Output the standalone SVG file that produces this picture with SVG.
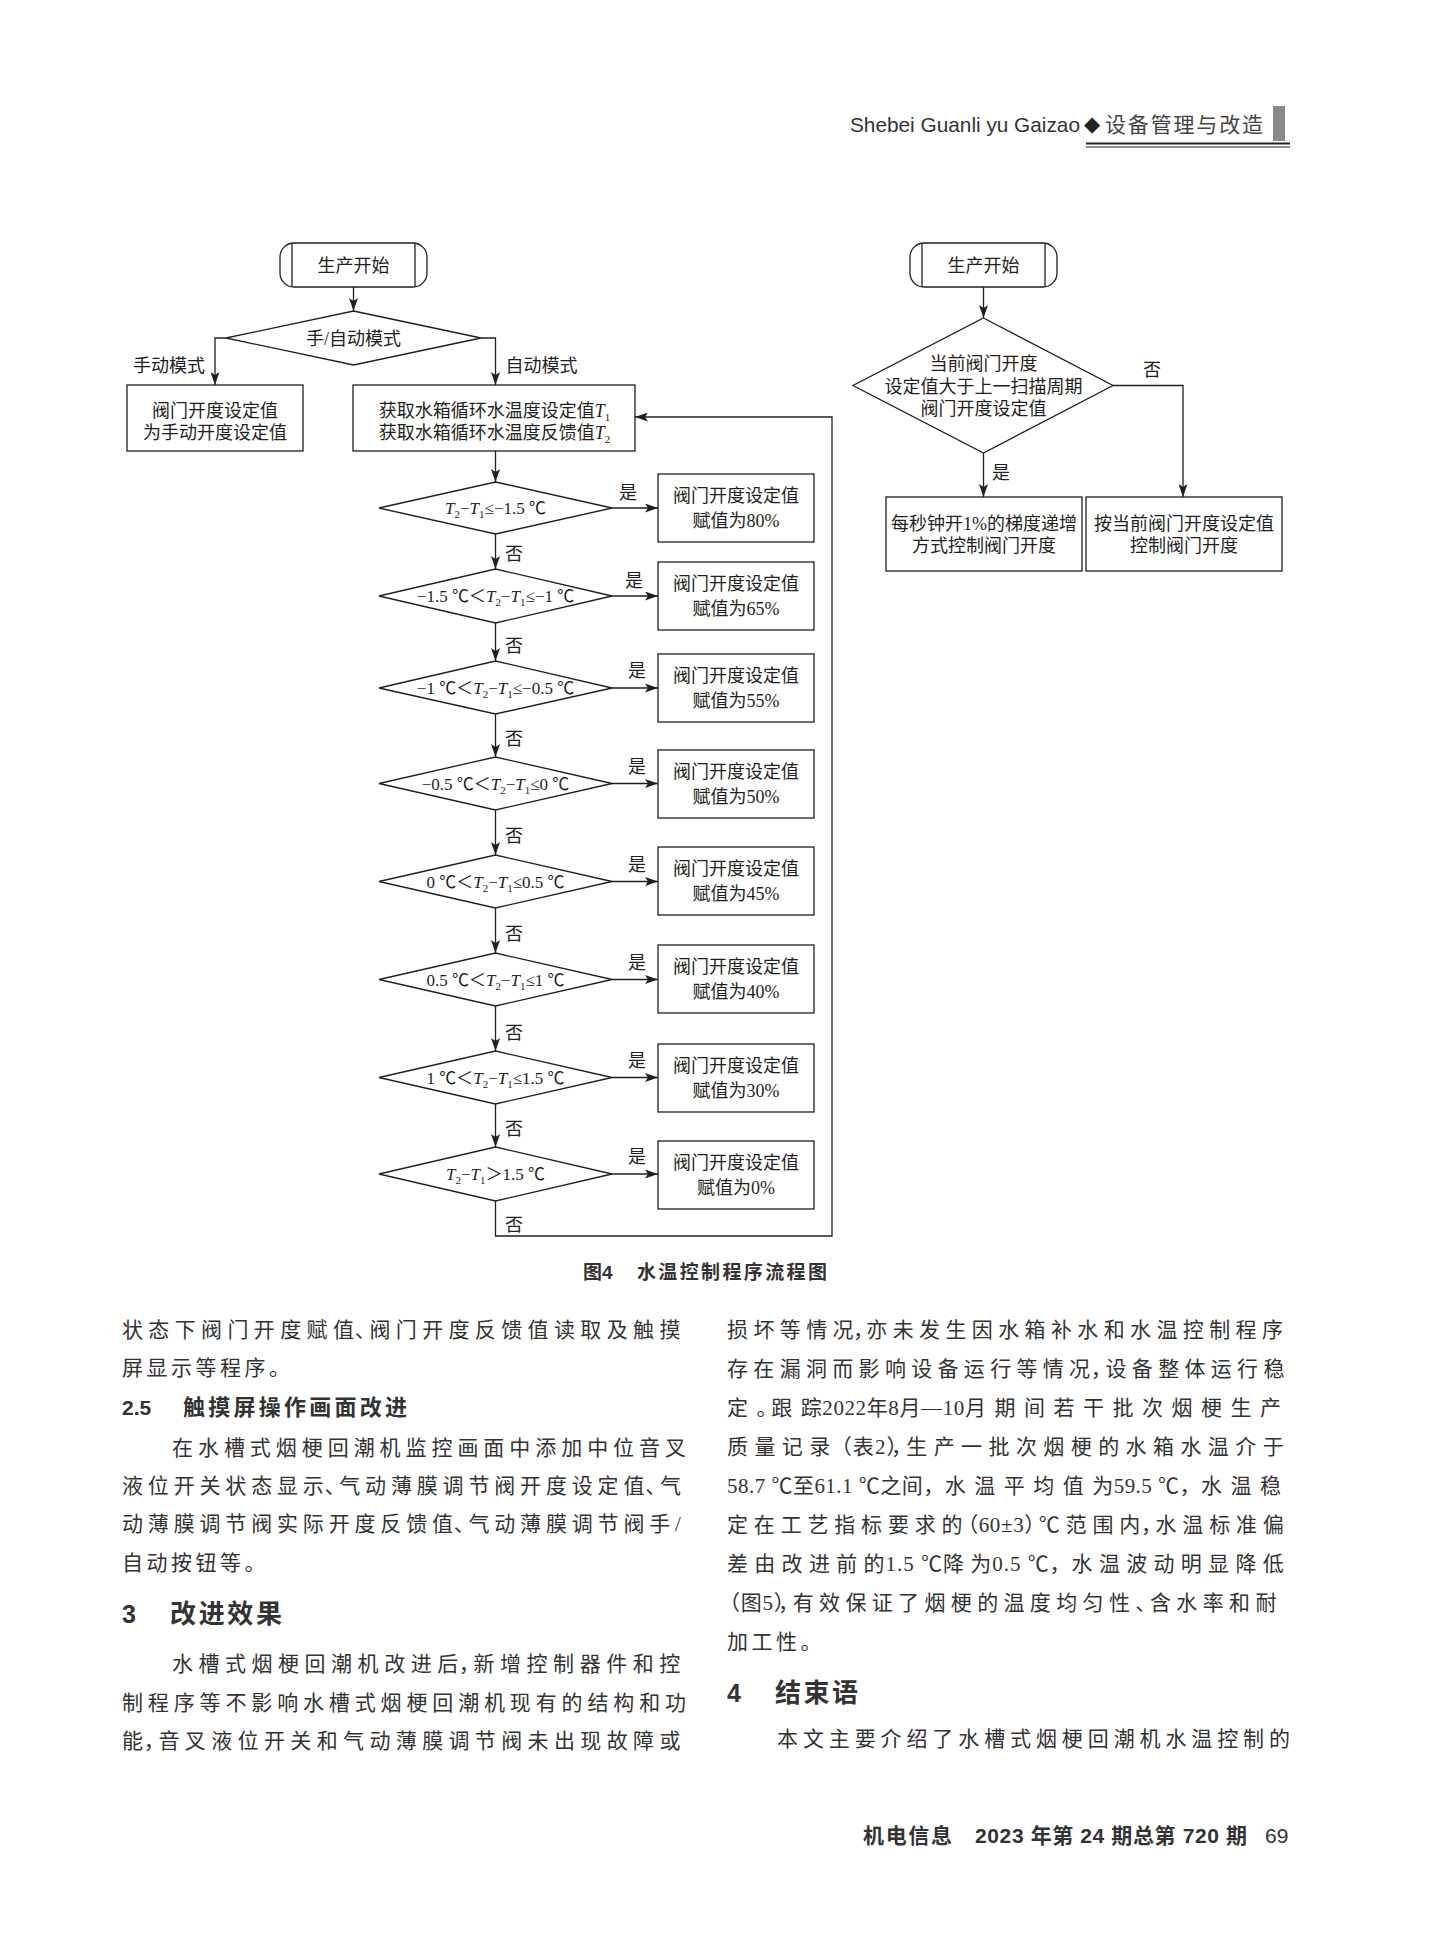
<svg xmlns="http://www.w3.org/2000/svg" width="1431" height="1955" viewBox="0 0 1431 1955">
<style>
.ln{stroke:#231f20;stroke-width:1.3;fill:none}
.bx{fill:#fff;stroke:#231f20;stroke-width:1.3}
.fc{font-family:"Liberation Serif","Noto Sans CJK SC",serif;font-size:18px;fill:#231f20}
.dt{font-size:17px}
.it{font-style:italic}
.sb{font-size:11px}
.cj{font-family:"Noto Sans CJK SC",sans-serif}
.bd{font-family:"Liberation Serif","Noto Sans CJK SC",serif;font-size:21px;fill:#333}
.t{letter-spacing:1px}
.cp{letter-spacing:-6px}
.hd{font-family:"Liberation Sans","Noto Sans CJK SC",sans-serif;font-weight:bold;fill:#333}
</style>
<defs>
<marker id="ar" markerUnits="userSpaceOnUse" markerWidth="14" markerHeight="9" refX="13" refY="4.5" orient="auto">
<path d="M0,0 L13,4.5 L0,9 L3,4.5 z" fill="#231f20"/>
</marker>
</defs>
<rect width="1431" height="1955" fill="#fff"/>

<g id="header">
<text x="850" y="132" font-family="Liberation Sans,sans-serif" font-size="21" fill="#333" textLength="230" lengthAdjust="spacingAndGlyphs">Shebei Guanli yu Gaizao</text>
<text x="1084" y="131" font-family="DejaVu Sans,sans-serif" font-size="21" fill="#222">◆</text>
<text x="1105" y="132" font-family="Noto Sans CJK SC,sans-serif" font-size="21" fill="#444" textLength="158">设备管理与改造</text>
<rect x="1273" y="106" width="12" height="35" fill="#8a8a8a"/>
<line x1="1086" y1="143.5" x2="1290" y2="143.5" stroke="#222" stroke-width="2"/>
<line x1="1086" y1="147" x2="1290" y2="147" stroke="#222" stroke-width="1"/>
</g>

<g id="connectors">
<path class="ln" d="M353.5,287 V311" marker-end="url(#ar)"/>
<path class="ln" d="M226,338 H215 V385" marker-end="url(#ar)"/>
<path class="ln" d="M481,338 H495.5 V385" marker-end="url(#ar)"/>
<path class="ln" d="M495.5,451 V482" marker-end="url(#ar)"/>
<path class="ln" d="M495.5,534 V569" marker-end="url(#ar)"/>
<path class="ln" d="M495.5,623 V661" marker-end="url(#ar)"/>
<path class="ln" d="M495.5,714 V757" marker-end="url(#ar)"/>
<path class="ln" d="M495.5,810 V855" marker-end="url(#ar)"/>
<path class="ln" d="M495.5,908 V953" marker-end="url(#ar)"/>
<path class="ln" d="M495.5,1006 V1051" marker-end="url(#ar)"/>
<path class="ln" d="M495.5,1104 V1147" marker-end="url(#ar)"/>
<path class="ln" d="M612,508 H658" marker-end="url(#ar)"/>
<path class="ln" d="M612,596 H658" marker-end="url(#ar)"/>
<path class="ln" d="M612,688 H658" marker-end="url(#ar)"/>
<path class="ln" d="M612,783.5 H658" marker-end="url(#ar)"/>
<path class="ln" d="M612,881.5 H658" marker-end="url(#ar)"/>
<path class="ln" d="M612,979.5 H658" marker-end="url(#ar)"/>
<path class="ln" d="M612,1077.5 H658" marker-end="url(#ar)"/>
<path class="ln" d="M612,1174 H658" marker-end="url(#ar)"/>
<path class="ln" d="M495.5,1201 V1236 H832 V417 H635" marker-end="url(#ar)"/>
<path class="ln" d="M983.5,287 V318" marker-end="url(#ar)"/>
<path class="ln" d="M983.5,453 V497" marker-end="url(#ar)"/>
<path class="ln" d="M1113,385.5 H1183 V497" marker-end="url(#ar)"/>
<g class="fc">
<text x="169" y="372" text-anchor="middle">手动模式</text>
<text x="541.5" y="372" text-anchor="middle">自动模式</text>
<text x="628" y="499" text-anchor="middle">是</text>
<text x="634" y="587" text-anchor="middle">是</text>
<text x="637" y="677" text-anchor="middle">是</text>
<text x="637" y="773" text-anchor="middle">是</text>
<text x="637" y="871" text-anchor="middle">是</text>
<text x="637" y="969" text-anchor="middle">是</text>
<text x="637" y="1067" text-anchor="middle">是</text>
<text x="637" y="1163" text-anchor="middle">是</text>
<text x="514" y="559.5" text-anchor="middle">否</text>
<text x="514" y="651.5" text-anchor="middle">否</text>
<text x="514" y="744.5" text-anchor="middle">否</text>
<text x="514" y="841.5" text-anchor="middle">否</text>
<text x="514" y="939.5" text-anchor="middle">否</text>
<text x="514" y="1038.5" text-anchor="middle">否</text>
<text x="514" y="1134.5" text-anchor="middle">否</text>
<text x="514" y="1231" text-anchor="middle">否</text>
<text x="1001" y="478.5" text-anchor="middle">是</text>
<text x="1152" y="375.5" text-anchor="middle">否</text>
</g>
</g>

<g id="start1">
<rect class="bx" x="280" y="243" width="147" height="44" rx="14"/>
<line class="ln" x1="292" y1="243" x2="292" y2="287"/>
<line class="ln" x1="415" y1="243" x2="415" y2="287"/>
<text class="fc" x="353.5" y="271.5" text-anchor="middle">生产开始</text>
</g>
<g id="mode">
<polygon class="bx" points="353.5,311 481,338 353.5,365 226,338"/>
<text class="fc" x="353.5" y="344.5" text-anchor="middle">手/自动模式</text>
</g>
<g id="manual">
<rect class="bx" x="127" y="385" width="176" height="66"/>
<text class="fc" x="215" y="416.5" text-anchor="middle">阀门开度设定值</text>
<text class="fc" x="215" y="438.5" text-anchor="middle">为手动开度设定值</text>
</g>
<g id="acquire">
<rect class="bx" x="353" y="385" width="282" height="66"/>
<text class="fc" x="494.5" y="416.5" text-anchor="middle">获取水箱循环水温度设定值<tspan class="it">T</tspan><tspan class="sb" dy="4">1</tspan></text>
<text class="fc" x="494.5" y="438.5" text-anchor="middle">获取水箱循环水温度反馈值<tspan class="it">T</tspan><tspan class="sb" dy="4">2</tspan></text>
</g>

<g id="d1">
<polygon class="bx" points="495.5,482 612,508 495.5,534 379,508"/>
<text class="fc dt" x="495.5" y="514" text-anchor="middle"><tspan class="it">T</tspan><tspan class="sb" dy="4">2</tspan><tspan dy="-4">−</tspan><tspan class="it">T</tspan><tspan class="sb" dy="4">1</tspan><tspan dy="-4">≤−1.5 </tspan><tspan class="cj">℃</tspan></text>
</g>
<g id="d2">
<polygon class="bx" points="495.5,569 612,596 495.5,623 379,596"/>
<text class="fc dt" x="495.5" y="602" text-anchor="middle">−1.5 <tspan class="cj">℃＜</tspan><tspan class="it">T</tspan><tspan class="sb" dy="4">2</tspan><tspan dy="-4">−</tspan><tspan class="it">T</tspan><tspan class="sb" dy="4">1</tspan><tspan dy="-4">≤−1 </tspan><tspan class="cj">℃</tspan></text>
</g>
<g id="d3">
<polygon class="bx" points="495.5,661 612,688 495.5,714 379,688"/>
<text class="fc dt" x="495.5" y="694" text-anchor="middle">−1 <tspan class="cj">℃＜</tspan><tspan class="it">T</tspan><tspan class="sb" dy="4">2</tspan><tspan dy="-4">−</tspan><tspan class="it">T</tspan><tspan class="sb" dy="4">1</tspan><tspan dy="-4">≤−0.5 </tspan><tspan class="cj">℃</tspan></text>
</g>
<g id="d4">
<polygon class="bx" points="495.5,757 612,783.5 495.5,810 379,783.5"/>
<text class="fc dt" x="495.5" y="789.5" text-anchor="middle">−0.5 <tspan class="cj">℃＜</tspan><tspan class="it">T</tspan><tspan class="sb" dy="4">2</tspan><tspan dy="-4">−</tspan><tspan class="it">T</tspan><tspan class="sb" dy="4">1</tspan><tspan dy="-4">≤0 </tspan><tspan class="cj">℃</tspan></text>
</g>
<g id="d5">
<polygon class="bx" points="495.5,855 612,881.5 495.5,908 379,881.5"/>
<text class="fc dt" x="495.5" y="887.5" text-anchor="middle">0 <tspan class="cj">℃＜</tspan><tspan class="it">T</tspan><tspan class="sb" dy="4">2</tspan><tspan dy="-4">−</tspan><tspan class="it">T</tspan><tspan class="sb" dy="4">1</tspan><tspan dy="-4">≤0.5 </tspan><tspan class="cj">℃</tspan></text>
</g>
<g id="d6">
<polygon class="bx" points="495.5,953 612,979.5 495.5,1006 379,979.5"/>
<text class="fc dt" x="495.5" y="985.5" text-anchor="middle">0.5 <tspan class="cj">℃＜</tspan><tspan class="it">T</tspan><tspan class="sb" dy="4">2</tspan><tspan dy="-4">−</tspan><tspan class="it">T</tspan><tspan class="sb" dy="4">1</tspan><tspan dy="-4">≤1 </tspan><tspan class="cj">℃</tspan></text>
</g>
<g id="d7">
<polygon class="bx" points="495.5,1051 612,1077.5 495.5,1104 379,1077.5"/>
<text class="fc dt" x="495.5" y="1083.5" text-anchor="middle">1 <tspan class="cj">℃＜</tspan><tspan class="it">T</tspan><tspan class="sb" dy="4">2</tspan><tspan dy="-4">−</tspan><tspan class="it">T</tspan><tspan class="sb" dy="4">1</tspan><tspan dy="-4">≤1.5 </tspan><tspan class="cj">℃</tspan></text>
</g>
<g id="d8">
<polygon class="bx" points="495.5,1147 612,1174 495.5,1201 379,1174"/>
<text class="fc dt" x="495.5" y="1180" text-anchor="middle"><tspan class="it">T</tspan><tspan class="sb" dy="4">2</tspan><tspan dy="-4">−</tspan><tspan class="it">T</tspan><tspan class="sb" dy="4">1</tspan><tspan class="cj" dy="-4">＞</tspan>1.5 <tspan class="cj">℃</tspan></text>
</g>

<g id="b1"><rect class="bx" x="658" y="474" width="156" height="68"/>
<text class="fc" x="736" y="502" text-anchor="middle">阀门开度设定值</text><text class="fc" x="736" y="526.5" text-anchor="middle">赋值为80%</text></g>
<g id="b2"><rect class="bx" x="658" y="562" width="156" height="68"/>
<text class="fc" x="736" y="590" text-anchor="middle">阀门开度设定值</text><text class="fc" x="736" y="614.5" text-anchor="middle">赋值为65%</text></g>
<g id="b3"><rect class="bx" x="658" y="654" width="156" height="68"/>
<text class="fc" x="736" y="682" text-anchor="middle">阀门开度设定值</text><text class="fc" x="736" y="706.5" text-anchor="middle">赋值为55%</text></g>
<g id="b4"><rect class="bx" x="658" y="750" width="156" height="68"/>
<text class="fc" x="736" y="778" text-anchor="middle">阀门开度设定值</text><text class="fc" x="736" y="802.5" text-anchor="middle">赋值为50%</text></g>
<g id="b5"><rect class="bx" x="658" y="847" width="156" height="68"/>
<text class="fc" x="736" y="875" text-anchor="middle">阀门开度设定值</text><text class="fc" x="736" y="899.5" text-anchor="middle">赋值为45%</text></g>
<g id="b6"><rect class="bx" x="658" y="945" width="156" height="68"/>
<text class="fc" x="736" y="973" text-anchor="middle">阀门开度设定值</text><text class="fc" x="736" y="997.5" text-anchor="middle">赋值为40%</text></g>
<g id="b7"><rect class="bx" x="658" y="1044" width="156" height="68"/>
<text class="fc" x="736" y="1072" text-anchor="middle">阀门开度设定值</text><text class="fc" x="736" y="1096.5" text-anchor="middle">赋值为30%</text></g>
<g id="b8"><rect class="bx" x="658" y="1141" width="156" height="68"/>
<text class="fc" x="736" y="1169" text-anchor="middle">阀门开度设定值</text><text class="fc" x="736" y="1193.5" text-anchor="middle">赋值为0%</text></g>

<g id="start2">
<rect class="bx" x="910" y="243" width="147" height="44" rx="14"/>
<line class="ln" x1="922" y1="243" x2="922" y2="287"/>
<line class="ln" x1="1045" y1="243" x2="1045" y2="287"/>
<text class="fc" x="983.5" y="271.5" text-anchor="middle">生产开始</text>
</g>
<g id="cmp">
<polygon class="bx" points="983.5,318 1113,385.5 983.5,453 853,385.5"/>
<text class="fc" x="983.5" y="369.5" text-anchor="middle">当前阀门开度</text>
<text class="fc" x="983.5" y="392.5" text-anchor="middle">设定值大于上一扫描周期</text>
<text class="fc" x="983.5" y="415" text-anchor="middle">阀门开度设定值</text>
</g>
<g id="ramp">
<rect class="bx" x="886" y="497" width="196" height="74"/>
<text class="fc" x="984" y="529.5" text-anchor="middle">每秒钟开1%的梯度递增</text>
<text class="fc" x="984" y="551.5" text-anchor="middle">方式控制阀门开度</text>
</g>
<g id="direct">
<rect class="bx" x="1086" y="497" width="196" height="74"/>
<text class="fc" x="1184" y="529.5" text-anchor="middle">按当前阀门开度设定值</text>
<text class="fc" x="1184" y="551.5" text-anchor="middle">控制阀门开度</text>
</g>

<g id="caption">
<text class="hd" x="583" y="1279" font-size="19">图4</text>
<text class="hd" x="637" y="1279" font-size="19" textLength="190">水温控制程序流程图</text>
</g>

<g id="body-left">
<text class="bd" x="122" y="1337" letter-spacing="5.6" textLength="564">状态下阀门开度赋<tspan class="t">值</tspan><tspan class="cp">、</tspan>阀门开度反馈值读取及触摸</text>
<text class="bd" x="122" y="1375" letter-spacing="3.5">屏显示等程序。</text>
<text class="hd" x="122" y="1415" font-size="21" font-weight="normal">2.5</text>
<text class="hd" x="183" y="1415" font-size="22" textLength="224">触摸屏操作画面改进</text>
<text class="bd" x="172" y="1455" textLength="514">在水槽式烟梗回潮机监控画面中添加中位音叉</text>
<text class="bd" x="122" y="1493" letter-spacing="5.1" textLength="564">液位开关状态显<tspan class="t">示</tspan><tspan class="cp">、</tspan>气动薄膜调节阀开度设定<tspan class="t">值</tspan><tspan class="cp">、</tspan>气</text>
<text class="bd" x="122" y="1531" letter-spacing="5.1" textLength="564">动薄膜调节阀实际开度反馈<tspan class="t">值</tspan><tspan class="cp">、</tspan>气动薄膜调节阀手/</text>
<text class="bd" x="122" y="1570" letter-spacing="3.5">自动按钮等。</text>
<text class="hd" x="122" y="1623" font-size="25" font-weight="normal">3</text>
<text class="hd" x="170" y="1623" font-size="26" textLength="112">改进效果</text>
<text class="bd" x="172" y="1671" letter-spacing="5.8" textLength="514">水槽式烟梗回潮机改进<tspan class="t">后</tspan><tspan class="cp">，</tspan>新增控制器件和控</text>
<text class="bd" x="122" y="1710" textLength="564">制程序等不影响水槽式烟梗回潮机现有的结构和功</text>
<text class="bd" x="122" y="1748" letter-spacing="5.6" textLength="564"><tspan class="t">能</tspan><tspan class="cp">，</tspan>音叉液位开关和气动薄膜调节阀未出现故障或</text>
</g>

<g id="body-right">
<text class="bd" x="727" y="1337" letter-spacing="7" textLength="563">损坏等情<tspan class="t">况</tspan><tspan class="cp">，</tspan>亦未发生因水箱补水和水温控制程序</text>
<text class="bd" x="727" y="1376" letter-spacing="5.6" textLength="563">存在漏洞而影响设备运行等情<tspan class="t">况</tspan><tspan class="cp">，</tspan>设备整体运行稳</text>
<text class="bd" x="727" y="1415" letter-spacing="8.9" textLength="563">定<tspan class="cp">。</tspan>跟<tspan class="t">踪2022年8月—10</tspan>月期间若干批次烟梗生产</text>
<text class="bd" x="727" y="1454" letter-spacing="6.3" textLength="563">质量记录<tspan class="t" dx="-6">（表2</tspan><tspan class="cp">），</tspan>生产一批次烟梗的水箱水温介于</text>
<text class="bd" x="727" y="1493" letter-spacing="9" textLength="563"><tspan class="t">58.7 ℃至61.1 ℃之间，</tspan>水温平均值<tspan class="t">为59.5 ℃，</tspan>水温稳</text>
<text class="bd" x="727" y="1532" letter-spacing="6.2" textLength="563">定在工艺指标要求<tspan class="t">的</tspan><tspan class="t" dx="-6">（60±3</tspan><tspan class="cp">）</tspan>℃范围<tspan class="t">内</tspan><tspan class="cp">，</tspan>水温标准偏</text>
<text class="bd" x="727" y="1571" letter-spacing="6.3" textLength="563">差由改进前<tspan class="t">的1.5 ℃</tspan>降<tspan class="t">为0.5 ℃，</tspan>水温波动明显降低</text>
<text class="bd" x="727" y="1610" letter-spacing="5.6" textLength="563"><tspan class="t" dx="-8">（图5</tspan><tspan class="cp">），</tspan>有效保证了烟梗的温度均匀性<tspan class="cp">、</tspan>含水率和耐</text>
<text class="bd" x="727" y="1649" letter-spacing="3.5">加工性。</text>
<text class="hd" x="727" y="1702" font-size="25" font-weight="normal">4</text>
<text class="hd" x="775" y="1702" font-size="26" textLength="83">结束语</text>
<text class="bd" x="777" y="1746" textLength="513">本文主要介绍了水槽式烟梗回潮机水温控制的</text>
</g>

<g id="footer">
<text class="hd" x="863" y="1843" font-size="21" fill="#555" textLength="89">机电信息</text>
<text class="hd" x="975" y="1843" font-size="21" fill="#555" textLength="272">2023 年第 24 期总第 720 期</text>
<text x="1265" y="1843" font-family="Liberation Sans,sans-serif" font-size="21" fill="#333">69</text>
</g>
</svg>
